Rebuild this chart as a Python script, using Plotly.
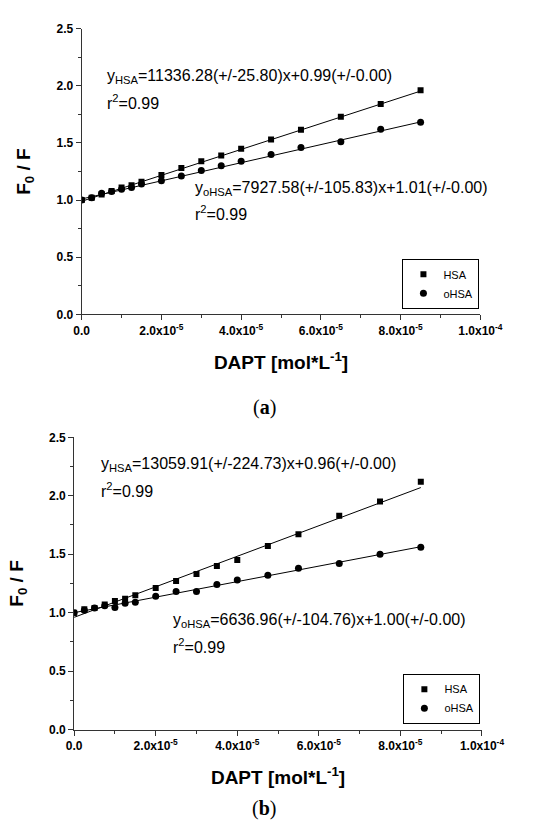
import plotly.graph_objects as go

# ---- data ----
conc = [0, 0.25e-5, 0.5e-5, 0.75e-5, 1.0e-5, 1.25e-5, 1.5e-5, 2.0e-5, 2.5e-5,
        3.0e-5, 3.5e-5, 4.0e-5, 4.75e-5, 5.5e-5, 6.5e-5, 7.5e-5, 8.5e-5]

a_hsa = [1.00, 1.02, 1.05, 1.08, 1.11, 1.13, 1.16, 1.22, 1.28, 1.34, 1.39, 1.45,
         1.53, 1.615, 1.73, 1.84, 1.96]
a_ohsa = [1.00, 1.02, 1.06, 1.075, 1.095, 1.11, 1.14, 1.17, 1.21, 1.26, 1.30, 1.34,
          1.40, 1.46, 1.51, 1.62, 1.68]
b_hsa = [1.00, 1.03, 1.04, 1.07, 1.10, 1.12, 1.15, 1.21, 1.27, 1.33, 1.40, 1.45,
         1.57, 1.67, 1.83, 1.95, 2.12]
b_ohsa = [1.00, 1.02, 1.04, 1.06, 1.045, 1.08, 1.09, 1.14, 1.18, 1.18, 1.24, 1.28,
          1.32, 1.38, 1.42, 1.50, 1.56]

# fitted parameters (slope, intercept)
fit_a_hsa = (11336.28, 0.99)
fit_a_ohsa = (7927.58, 1.01)
fit_b_hsa = (13059.91, 0.96)
fit_b_ohsa = (6636.96, 1.00)

x_ticks = [0, 2e-5, 4e-5, 6e-5, 8e-5, 1e-4]
x_ticktext = ["0.0", "2.0x10<sup>-5</sup>", "4.0x10<sup>-5</sup>", "6.0x10<sup>-5</sup>",
              "8.0x10<sup>-5</sup>", "1.0x10<sup>-4</sup>"]
x_minor = [1e-5, 3e-5, 5e-5, 7e-5, 9e-5]
y_ticks = [0, 0.5, 1.0, 1.5, 2.0, 2.5]
y_ticktext = ["0.0", "0.5", "1.0", "1.5", "2.0", "2.5"]
y_minor = [0.25, 0.75, 1.25, 1.75, 2.25]

W, H = 543, 828
def px(x):
    return x / W
def py(y):
    return 1 - y / H

SANS = "Liberation Sans"
SERIF = "Liberation Serif"
fig = go.Figure()

def fit_line(x0, x1, p):
    xs = [x0, x1]
    return xs, [p[0] * v + p[1] for v in xs]

panels = [
    ("x", "y", "legend", a_hsa, a_ohsa, fit_a_hsa, fit_a_ohsa),
    ("x2", "y2", "legend2", b_hsa, b_ohsa, fit_b_hsa, fit_b_ohsa),
]
for xa, ya, lg, hsa, ohsa, fh, fo in panels:
    for p in (fh, fo):
        lx, ly = fit_line(conc[0], conc[-1], p)
        fig.add_trace(go.Scatter(x=lx, y=ly, mode="lines", xaxis=xa, yaxis=ya,
                                 line=dict(color="black", width=1), showlegend=False,
                                 hoverinfo="skip"))
    fig.add_trace(go.Scatter(x=conc, y=hsa, mode="markers", name="HSA", xaxis=xa, yaxis=ya,
                             legend=lg, marker=dict(symbol="square", size=6, color="black")))
    fig.add_trace(go.Scatter(x=conc, y=ohsa, mode="markers", name="oHSA", xaxis=xa, yaxis=ya,
                             legend=lg, marker=dict(symbol="circle", size=7, color="black")))

def xaxis(domain, anchor):
    return dict(domain=domain, anchor=anchor, range=[0, 1e-4], showgrid=False, zeroline=False,
                showline=True, linecolor="#333", linewidth=1, ticks="outside", ticklen=5,
                tickcolor="#333", tickvals=x_ticks, ticktext=x_ticktext,
                tickfont=dict(family=SANS, size=12, color="black", weight="bold"),
                minor=dict(tickvals=x_minor, ticks="outside", ticklen=3, tickcolor="#333"),
                title=dict(text="DAPT [mol*L<sup>-1</sup>]",
                           font=dict(family=SANS, size=19, color="black", weight="bold"),
                           standoff=18))

def yaxis(domain, anchor):
    return dict(domain=domain, anchor=anchor, range=[0, 2.5], showgrid=False, zeroline=False,
                showline=True, linecolor="#333", linewidth=1, ticks="outside", ticklen=5,
                tickcolor="#333", tickvals=y_ticks, ticktext=y_ticktext,
                tickfont=dict(family=SANS, size=12, color="black", weight="bold"),
                minor=dict(tickvals=y_minor, ticks="outside", ticklen=3, tickcolor="#333"),
                title=dict(text="F<sub>0</sub> / F",
                           font=dict(family=SANS, size=19, color="black", weight="bold"),
                           standoff=20))

legend_style = dict(bordercolor="black", borderwidth=1, bgcolor="white",
                    font=dict(family=SANS, size=11, color="black"),
                    xanchor="right", yanchor="bottom", tracegroupgap=0, itemwidth=30)

ann_font = dict(family=SANS, size=16, color="black")
cap_font = dict(family=SERIF, size=20, color="black")

annotations = [
    dict(text="y<sub>HSA</sub>=11336.28(+/-25.80)x+0.99(+/-0.00)", x=px(103), y=py(71)),
    dict(text="r<sup>2</sup>=0.99", x=px(103), y=py(97)),
    dict(text="y<sub>oHSA</sub>=7927.58(+/-105.83)x+1.01(+/-0.00)", x=px(196), y=py(185)),
    dict(text="r<sup>2</sup>=0.99", x=px(196), y=py(210)),
    dict(text="y<sub>HSA</sub>=13059.91(+/-224.73)x+0.96(+/-0.00)", x=px(96), y=py(465)),
    dict(text="r<sup>2</sup>=0.99", x=px(96), y=py(491)),
    dict(text="y<sub>oHSA</sub>=6636.96(+/-104.76)x+1.00(+/-0.00)", x=px(173), y=py(624)),
    dict(text="r<sup>2</sup>=0.99", x=px(173), y=py(650)),
]
anns = []
for a in annotations:
    anns.append(dict(xref="paper", yref="paper", xanchor="left", yanchor="middle",
                     showarrow=False, font=ann_font, **a))
anns.append(dict(text="(<b>a</b>)", x=px(271), y=py(407), xref="paper", yref="paper",
                 showarrow=False, font=cap_font, xanchor="center", yanchor="middle"))
anns.append(dict(text="(<b>b</b>)", x=px(271), y=py(815), xref="paper", yref="paper",
                 showarrow=False, font=cap_font, xanchor="center", yanchor="middle"))

fig.update_layout(
    width=W, height=H, margin=dict(l=0, r=0, t=0, b=0),
    paper_bgcolor="white", plot_bgcolor="white",
    xaxis=xaxis([px(78), px(500)], "y"),
    yaxis=yaxis([py(312.7), py(22)], "x"),
    xaxis2=xaxis([px(70), px(501.7)], "y2"),
    yaxis2=yaxis([py(735), py(437.7)], "x2"),
    legend=dict(x=px(499), y=py(307), **legend_style),
    legend2=dict(x=px(500), y=py(729), **legend_style),
    annotations=anns,
)

fig.write_html("out.html")
